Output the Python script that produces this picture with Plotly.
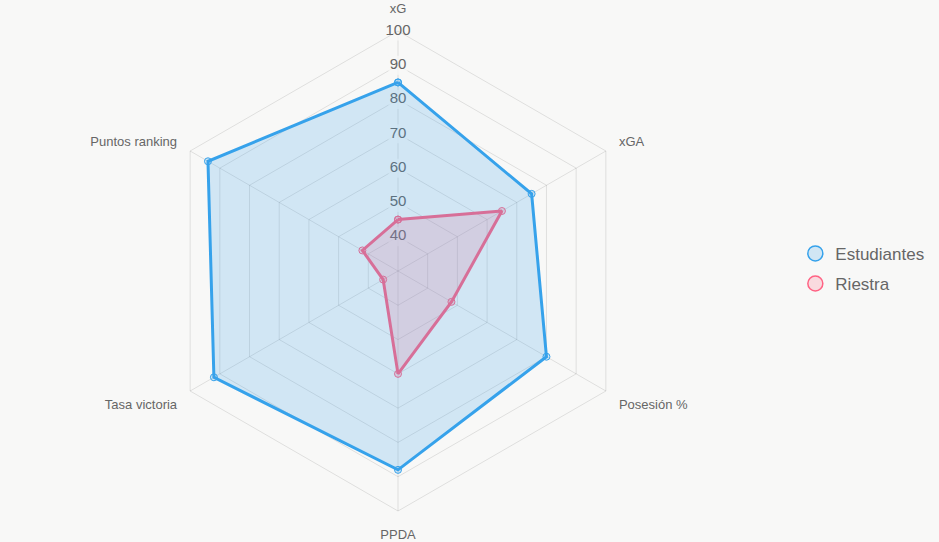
import plotly.graph_objects as go

categories = ["xG", "xGA", "Posesión %", "PPDA", "Tasa victoria", "Puntos ranking"]
estudiantes = [85, 75, 80, 88, 92, 94]
riestra = [45, 65, 48, 60, 35, 42]
tick_vals = [40, 50, 60, 70, 80, 90, 100]

BG = "rgb(248,248,247)"
GRID = "rgba(0,0,0,0.1)"
TXT = "#666666"
FONT = "Liberation Sans, Arial, sans-serif"

blue = "rgb(54,162,235)"
blue_fill = "rgba(54,162,235,0.2)"
pink = "rgb(255,99,132)"
pink_fill = "rgba(255,99,132,0.2)"

fig = go.Figure()

# radial tick label backdrops + labels (drawn under datasets like Chart.js)
fig.add_trace(go.Scatterpolar(
    r=tick_vals, theta=[categories[0]] * len(tick_vals), mode="markers",
    marker=dict(symbol="square", size=19, color="rgba(248,248,247,0.75)", line=dict(width=0)),
    showlegend=False, hoverinfo="skip"))
fig.add_trace(go.Scatterpolar(
    r=tick_vals, theta=[categories[0]] * len(tick_vals), mode="text",
    text=[str(v) for v in tick_vals], textposition="middle center",
    textfont=dict(size=15, color=TXT, family=FONT),
    showlegend=False, hoverinfo="skip"))


def closed(vals):
    return list(vals) + [vals[0]]


# Riestra first (Chart.js draws dataset 0 on top)
fig.add_trace(go.Scatterpolar(
    r=closed(riestra), theta=closed(categories), mode="lines+markers",
    fill="toself", fillcolor=pink_fill,
    line=dict(color=pink, width=3),
    marker=dict(size=7, color=pink_fill, line=dict(color=pink, width=1)),
    name="Riestra", showlegend=False))
fig.add_trace(go.Scatterpolar(
    r=closed(estudiantes), theta=closed(categories), mode="lines+markers",
    fill="toself", fillcolor=blue_fill,
    line=dict(color=blue, width=3),
    marker=dict(size=7, color=blue_fill, line=dict(color=blue, width=1)),
    name="Estudiantes", showlegend=False))

# legend entries
for name, c, f in [("Estudiantes", blue, blue_fill), ("Riestra", pink, pink_fill)]:
    fig.add_trace(go.Scatterpolar(
        r=[None], theta=[categories[0]], mode="markers", name=name, legendgroup=name,
        marker=dict(symbol="circle", size=15, color=f, line=dict(color=c, width=1.5)),
        showlegend=True))

fig.update_layout(
    width=939, height=542,
    margin=dict(l=0, r=0, t=0, b=0),
    paper_bgcolor=BG, plot_bgcolor=BG,
    font=dict(family=FONT, color=TXT),
    polar=dict(
        bgcolor=BG,
        domain=dict(x=[158 / 939, 638 / 939], y=[31 / 542, 511 / 542]),
        gridshape="linear",
        radialaxis=dict(range=[30, 100], tickvals=tick_vals, showticklabels=False,
                        showline=False, ticks="", gridcolor=GRID, gridwidth=1),
        angularaxis=dict(rotation=90, direction="clockwise", gridcolor=GRID,
                         linecolor=GRID, showline=True, ticks="outside", ticklen=12,
                         tickcolor="rgba(0,0,0,0)",
                         tickfont=dict(size=13, color=TXT, family=FONT)),
    ),
    legend=dict(x=0.847, y=0.504, xanchor="left", yanchor="middle",
                font=dict(size=17, color=TXT, family=FONT),
                bgcolor="rgba(0,0,0,0)", itemwidth=30,
                traceorder="grouped", tracegroupgap=5),
)

fig.write_html("out.html")
